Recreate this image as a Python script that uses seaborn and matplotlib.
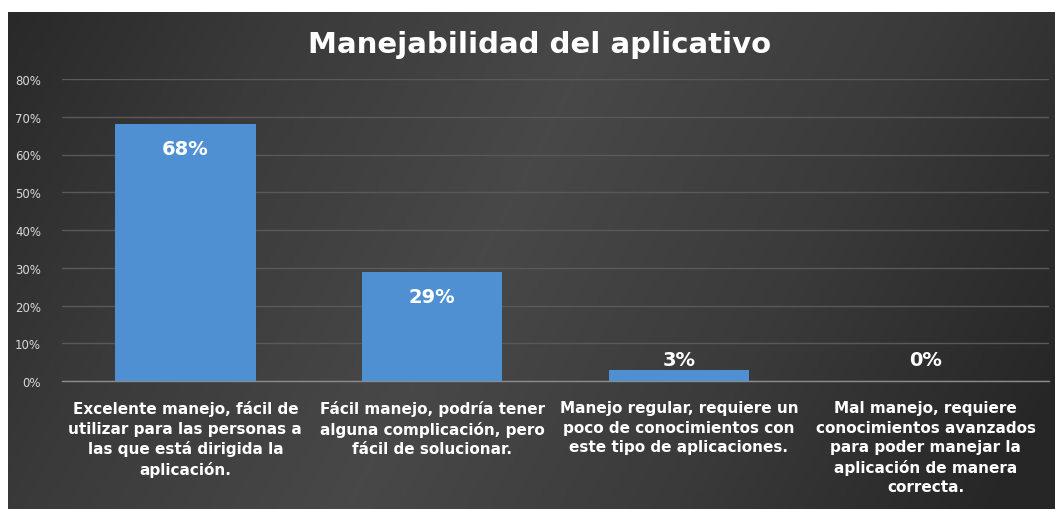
import matplotlib

matplotlib.use("Agg")
import matplotlib.pyplot as plt
import numpy as np
import pandas as pd
import seaborn as sns
from matplotlib.colors import LinearSegmentedColormap

TITLE = "Manejabilidad del aplicativo"
categories = [
    "Excelente manejo, fácil de\nutilizar para las personas a\nlas que está dirigida la\naplicación.",
    "Fácil manejo, podría tener\nalguna complicación, pero\nfácil de solucionar.",
    "Manejo regular, requiere un\npoco de conocimientos con\neste tipo de aplicaciones.",
    "Mal manejo, requiere\nconocimientos avanzados\npara poder manejar la\naplicación de manera\ncorrecta.",
]
shares = [0.68, 0.29, 0.03, 0.0]
y_ticks = [0.0, 0.1, 0.2, 0.3, 0.4, 0.5, 0.6, 0.7, 0.8]

W, H = 1055, 510
BAR_COLOR = "#4f90d2"
TEXT_COLOR = "white"
TICK_COLOR = "#d9d9d9"
GRID_COLOR = "#595959"

sns.set_theme(style="dark")
plt.rcParams["font.family"] = ["DejaVu Sans"]

df = pd.DataFrame({"category": categories, "share": shares})

fig = plt.figure(figsize=(W / 100, H / 100), dpi=100)
fig.patch.set_facecolor("white")

# dark gradient panel behind the chart (white strip on top / left edge like the screenshot)
bg = fig.add_axes([8 / W, 0, 1 - 8 / W, (H - 13) / H])
bg.set_axis_off()
xx = np.linspace(0, 1, 300)
yy = np.linspace(0, 1, 150)
X, Y = np.meshgrid(xx, yy)
shade = 1 - np.abs(X - 0.45 + 0.25 * (Y - 0.5)) * 1.6
bg_cmap = LinearSegmentedColormap.from_list("bg", ["#262626", "#3a3a3a", "#484848"])
bg.imshow(shade, cmap=bg_cmap, aspect="auto", extent=[0, 1, 0, 1], vmin=0, vmax=1)
bg.set_xlim(0, 1)
bg.set_ylim(0, 1)

ax = fig.add_axes([62 / W, (H - 382) / H, (1049 - 62) / W, (382 - 80) / H])
ax.patch.set_alpha(0)
sns.barplot(data=df, x="category", y="share", color=BAR_COLOR, width=0.57,
            saturation=1, edgecolor="none", linewidth=0, ax=ax, zorder=3)

ax.set_ylim(0, 0.8)
ax.set_xlim(-0.5, 3.5)
ax.set_yticks(y_ticks)
ax.set_yticklabels([f"{t:.0%}" for t in y_ticks], color=TICK_COLOR, fontsize=8.5)
ax.tick_params(axis="y", length=0, pad=15)
ax.tick_params(axis="x", length=0, pad=14)
ax.set_xticks(range(len(categories)))
ax.set_xticklabels(categories, color=TEXT_COLOR, fontsize=11, fontweight="bold",
                   linespacing=1.36, va="top")
ax.set_xlabel("")
ax.set_ylabel("")
ax.grid(axis="y", color=GRID_COLOR, linewidth=1, zorder=0)
ax.grid(axis="x", visible=False)
for side in ["top", "right", "left"]:
    ax.spines[side].set_visible(False)
ax.spines["bottom"].set_color("#8c8c8c")
ax.spines["bottom"].set_linewidth(1)

# data labels: inside the top for tall bars, above for short ones
for i, v in enumerate(shares):
    if v > 0.1:
        ax.text(i, v - 0.04, f"{v:.0%}", ha="center", va="top", color=TEXT_COLOR,
                fontsize=14, fontweight="bold", zorder=5)
    else:
        ax.text(i, max(v, 0.03) + 0.002, f"{v:.0%}", ha="center", va="bottom",
                color=TEXT_COLOR, fontsize=14, fontweight="bold", zorder=5)

fig.text(540 / W, (H - 45) / H, TITLE, ha="center", va="center", color=TEXT_COLOR,
         fontsize=21, fontweight="bold")

fig.savefig("out.png", dpi=100)
